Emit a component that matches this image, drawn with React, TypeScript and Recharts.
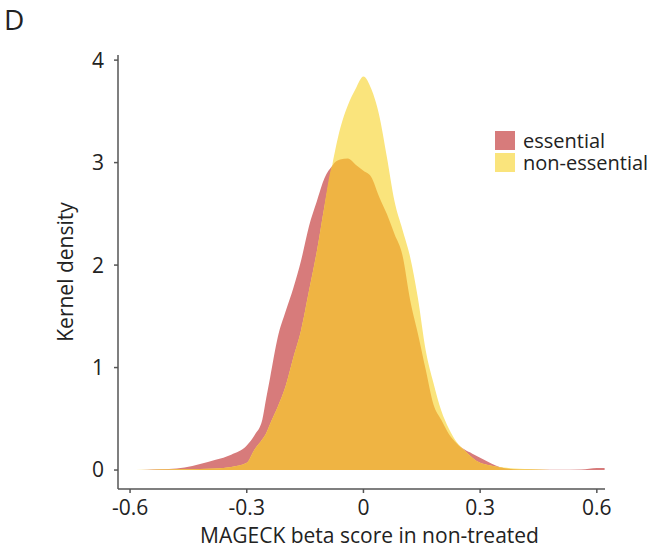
import { AreaChart, Area, XAxis, YAxis, Label } from 'recharts';

// density curves
const betaScores = [
  -0.6, -0.57, -0.54, -0.5, -0.46, -0.42, -0.38, -0.34, -0.3, -0.28, -0.26, -0.25, -0.24, -0.22,
  -0.2, -0.18, -0.16, -0.14, -0.12, -0.1, -0.08, -0.06, -0.04, -0.02, 0, 0.02, 0.04, 0.06, 0.08,
  0.1, 0.12, 0.14, 0.16, 0.18, 0.2, 0.22, 0.24, 0.26, 0.28, 0.3, 0.32, 0.34, 0.36, 0.4, 0.46, 0.5,
  0.56, 0.6, 0.62,
];
const essential = [
  0, 0, 0.005, 0.01, 0.025, 0.06, 0.1, 0.15, 0.24, 0.34, 0.49, 0.7, 0.9, 1.3,
  1.55, 1.78, 2.05, 2.38, 2.62, 2.85, 2.97, 3.03, 3.04, 2.98, 2.92, 2.86, 2.67, 2.5, 2.3,
  2.1, 1.66, 1.33, 0.98, 0.64, 0.49, 0.35, 0.26, 0.2, 0.16, 0.12, 0.08, 0.045, 0.02, 0.005, 0.003, 0.002,
  0.005, 0.02, 0.02,
];
const nonEssential = [
  0, 0.003, 0.004, 0.005, 0.007, 0.01, 0.015, 0.03, 0.07, 0.2, 0.3, 0.36, 0.45, 0.62,
  0.82, 1.1, 1.37, 1.75, 2.13, 2.58, 2.98, 3.33, 3.56, 3.72, 3.84, 3.72, 3.47, 3.06, 2.62,
  2.35, 2.08, 1.68, 1.17, 0.85, 0.58, 0.4, 0.27, 0.19, 0.12, 0.07, 0.05, 0.035, 0.025, 0.012, 0.004, 0,
  0, 0, 0,
];
const xTicks = [-0.6, -0.3, 0, 0.3, 0.6];
const yTicks = [0, 1, 2, 3, 4];
const legendItems = ['essential', 'non-essential'];

const RED = '#d77b7b';
const YELLOW = '#fae47c';
const ORANGE = '#efb443';
const FONT = '"Open Sans", sans-serif';
const legendColors = [RED, YELLOW];

const data = betaScores.map((x, i) => ({
  x,
  essential: essential[i],
  nonEssential: nonEssential[i],
  overlap: Math.min(essential[i], nonEssential[i]),
}));

export default function App() {
  const tickStyle = { fontFamily: FONT, fontSize: 21, fill: '#222' };
  return (
    <div style={{ position: 'absolute', left: 0, top: 0, width: 653, height: 554, background: '#fff' }}>
      <div style={{ position: 'absolute', left: 4, top: 0, fontFamily: FONT, fontSize: 28, color: '#222' }}>D</div>
      {/* legend */}
      <div style={{ position: 'absolute', left: 495, top: 130, fontFamily: FONT, fontSize: 20, color: '#222' }}>
        {legendItems.map((name, i) => (
          <div key={name} style={{ display: 'flex', alignItems: 'center', height: 21, marginBottom: 1 }}>
            <span style={{ width: 20, height: 19, background: legendColors[i], marginRight: 8, display: 'block' }} />
            <span style={{ display: 'block', height: 21, lineHeight: '21px' }}>{name}</span>
          </div>
        ))}
      </div>
      <AreaChart width={653} height={554} data={data} margin={{ top: 55, right: 48, bottom: 9, left: 22 }}>
        <XAxis
          type="number"
          dataKey="x"
          domain={[-0.631, 0.621]}
          ticks={xTicks}
          allowDataOverflow
          tickFormatter={(v) => (v === 0 ? '0' : v.toFixed(1))}
          stroke="#555"
          strokeWidth={1.5}
          tickSize={4}
          tickMargin={7}
          tick={tickStyle}
          height={56}
        >
          <Label value="MAGECK beta score in non-treated" position="insideBottom" offset={2} dx={8} style={tickStyle} />
        </XAxis>
        <YAxis
          type="number"
          domain={[-0.185, 4.05]}
          ticks={yTicks}
          allowDataOverflow
          stroke="#555"
          strokeWidth={1.5}
          tickSize={4}
          tickMargin={10}
          tick={tickStyle}
          width={96}
        >
          <Label value="Kernel density" angle={-90} position="center" dx={-4} style={tickStyle} />
        </YAxis>
        <Area type="monotone" dataKey="essential" fill={RED} fillOpacity={1} stroke="none" baseValue={0} isAnimationActive={false} />
        <Area type="monotone" dataKey="nonEssential" fill={YELLOW} fillOpacity={1} stroke="none" baseValue={0} isAnimationActive={false} />
        <Area type="monotone" dataKey="overlap" fill={ORANGE} fillOpacity={1} stroke="none" baseValue={0} isAnimationActive={false} />
      </AreaChart>
    </div>
  );
}
